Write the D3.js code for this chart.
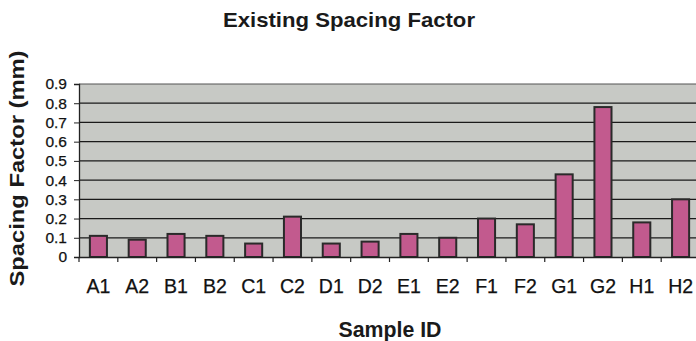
<!DOCTYPE html>
<html><head><meta charset="utf-8">
<script src="https://cdn.jsdelivr.net/npm/d3@7"></script>
<style>body{margin:0;background:#fff}svg{display:block}</style>
</head><body>
<svg id="c" width="696" height="341"></svg>
<script>
const categories = ["A1","A2","B1","B2","C1","C2","D1","D2","E1","E2","F1","F2","G1","G2","H1","H2"];
const spacingFactor = [0.11,0.09,0.12,0.11,0.07,0.21,0.07,0.08,0.12,0.10,0.20,0.17,0.43,0.78,0.18,0.30];
const yTicks = [0,0.1,0.2,0.3,0.4,0.5,0.6,0.7,0.8,0.9];
const yTickLabels = ["0","0.1","0.2","0.3","0.4","0.5","0.6","0.7","0.8","0.9"];
const title = "Existing Spacing Factor";
const xTitle = "Sample ID";
const yTitle = "Spacing Factor (mm)";

const FONT = "Liberation Sans, Arial, sans-serif";
const svg = d3.select("#c");
const m = {left:79, top:84, right:700, bottom:257};
const x = d3.scaleBand().domain(categories).range([m.left, m.right]).paddingInner(0.56).paddingOuter(0.28);
const xb = d3.scaleBand().domain(categories).range([m.left, m.right]);
const y = d3.scaleLinear().domain([0,0.9]).range([m.bottom, m.top]);

svg.append("rect").attr("x",m.left).attr("y",m.top).attr("width",m.right-m.left).attr("height",m.bottom-m.top)
  .attr("fill","#c7c9c5");
svg.append("g").selectAll("line").data(yTicks.filter(d=>d>0)).join("line")
  .attr("x1",m.left).attr("x2",m.right).attr("y1",d=>y(d)).attr("y2",d=>y(d))
  .attr("stroke",d=>d===0.9?"#555":"#1a1a1a").attr("stroke-width",1.2);

svg.append("g").selectAll("rect").data(categories).join("rect")
  .attr("x",d=>x(d)).attr("width",x.bandwidth())
  .attr("y",(d,i)=>y(spacingFactor[i])).attr("height",(d,i)=>y(0)-y(spacingFactor[i]))
  .attr("fill","#c25a8e").attr("stroke","#2a2a2a").attr("stroke-width",2);

// y axis
const ya = svg.append("g").attr("transform",`translate(${m.left},0)`)
  .call(d3.axisLeft(y).tickValues(yTicks).tickFormat((d,i)=>yTickLabels[i]).tickSize(5).tickPadding(7));
ya.select(".domain").attr("stroke","#222").attr("stroke-width",1.3);
ya.selectAll(".tick line").attr("stroke","#222");
ya.selectAll("text").attr("font-family",FONT).attr("font-size",15.5).attr("fill","#111")
  .attr("stroke","#111").attr("stroke-width",0.25);

// x axis
const xa = svg.append("g").attr("transform",`translate(0,${m.bottom})`)
  .call(d3.axisBottom(xb).tickSize(0).tickPadding(0));
xa.select(".domain").attr("stroke","#222").attr("stroke-width",1.3);
xa.selectAll(".tick text").attr("font-family",FONT).attr("font-size",19.5)
  .attr("fill","#111").attr("stroke","#111").attr("stroke-width",0.25).attr("dy",null).attr("y",36);
svg.append("g").selectAll("line").data(categories).join("line")
  .attr("x1",d=>xb(d)).attr("x2",d=>xb(d)).attr("y1",m.bottom).attr("y2",m.bottom+5)
  .attr("stroke","#222").attr("stroke-width",1.2);

svg.append("text").attr("x",349).attr("y",27).attr("text-anchor","middle")
  .attr("font-family",FONT).attr("font-weight","bold").attr("font-size",21)
  .attr("textLength",252).attr("lengthAdjust","spacingAndGlyphs")
  .attr("fill","#1a1a1a").text(title);
svg.append("text").attr("x",390).attr("y",337).attr("text-anchor","middle")
  .attr("font-family",FONT).attr("font-weight","bold").attr("font-size",22)
  .attr("textLength",103).attr("lengthAdjust","spacingAndGlyphs")
  .attr("fill","#1a1a1a").text(xTitle);
svg.append("text").attr("transform","translate(24,168.5) rotate(-90)").attr("text-anchor","middle")
  .attr("font-family",FONT).attr("font-weight","bold").attr("font-size",20)
  .attr("textLength",236).attr("lengthAdjust","spacingAndGlyphs")
  .attr("fill","#1a1a1a").text(yTitle);
</script>
</body></html>
